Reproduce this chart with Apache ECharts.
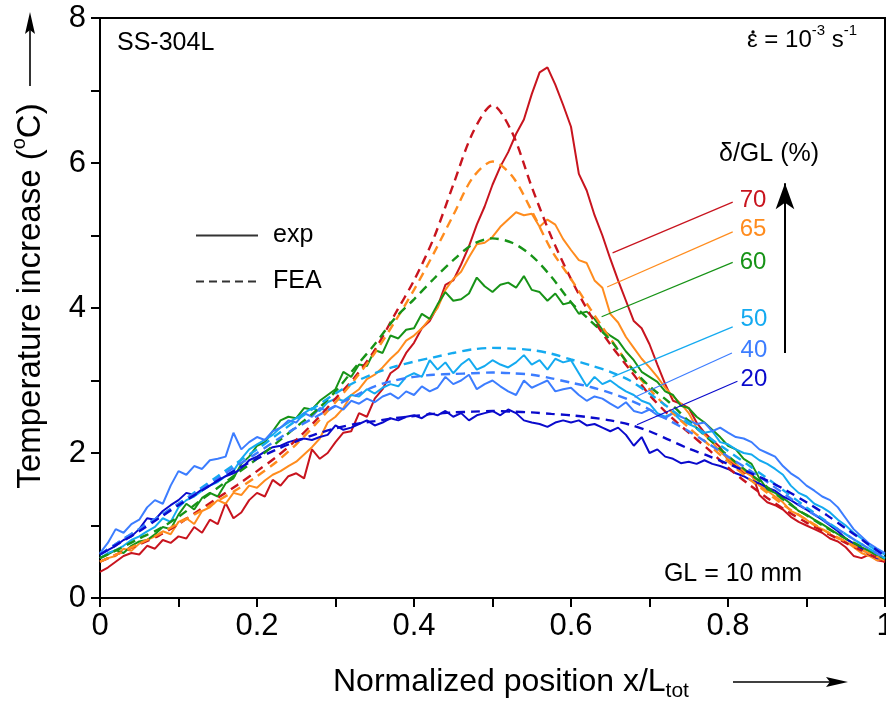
<!DOCTYPE html>
<html><head><meta charset="utf-8">
<script src="https://cdn.jsdelivr.net/npm/echarts@6/dist/echarts.min.js"></script>
<style>html,body{margin:0;padding:0;background:#fff}#c{width:886px;height:710px}</style>
</head><body><div id="c"></div>
<script>
// sampling grids (normalized position x/L_tot)
const xExp = []; for (let i = 0; i <= 100; i++) xExp.push(+(i / 100).toFixed(2));
const xFea = []; for (let i = 0; i <= 40; i++) xFea.push(+(i * 0.025).toFixed(3));

// experimental temperature increase (°C), read at x = 0, 0.01, ..., 1
const exp70 = [0.36,0.42,0.50,0.58,0.62,0.60,0.72,0.68,0.80,0.76,
0.85,0.82,0.98,0.90,1.08,1.02,1.31,1.10,1.18,1.35,
1.45,1.40,1.63,1.55,1.68,1.72,1.65,2.05,1.92,2.00,
2.15,2.28,2.30,2.55,2.50,2.75,2.88,3.10,3.18,3.38,
3.52,3.72,3.82,4.02,4.32,4.38,4.60,4.85,5.15,5.40,
5.70,5.95,6.15,6.40,6.60,6.95,7.25,7.32,7.08,6.80,
6.50,5.85,5.62,5.28,5.00,4.68,4.38,4.10,3.82,3.72,
3.50,3.22,2.95,2.72,2.68,2.62,2.42,2.28,2.18,2.08,
1.90,1.82,1.72,1.74,1.42,1.32,1.28,1.22,1.12,1.05,
1.00,0.95,0.90,0.82,0.78,0.70,0.58,0.55,0.60,0.52,0.50];
const exp65 = [0.50,0.55,0.58,0.68,0.65,0.75,0.80,0.85,0.92,0.88,
1.05,1.10,1.02,1.20,1.25,1.35,1.30,1.45,1.42,1.55,
1.52,1.62,1.70,1.75,1.82,1.88,1.98,2.08,2.20,2.42,
2.50,2.62,2.80,2.88,3.02,3.08,3.18,3.30,3.40,3.55,
3.62,3.72,3.85,4.00,4.25,4.40,4.50,4.70,4.88,4.90,
4.98,5.12,5.22,5.32,5.28,5.30,5.12,5.22,5.15,4.95,
4.80,4.66,4.62,4.38,4.28,3.92,3.80,3.60,3.45,3.30,
3.18,3.05,2.90,2.78,2.68,2.55,2.35,2.25,2.15,2.02,
1.92,1.85,1.75,1.68,1.55,1.48,1.40,1.32,1.20,1.15,
1.08,1.00,0.95,0.88,0.82,0.78,0.70,0.62,0.58,0.52,0.55];
const exp60 = [0.55,0.60,0.66,0.62,0.72,0.78,0.80,0.88,0.98,0.95,
1.15,1.30,1.22,1.38,1.45,1.40,1.58,1.65,1.85,1.95,
2.10,2.15,2.30,2.45,2.50,2.48,2.62,2.60,2.72,2.80,
2.88,3.12,3.05,3.22,3.20,3.42,3.38,3.62,3.58,3.70,
3.72,3.92,3.85,4.05,4.22,4.10,4.12,4.20,4.42,4.30,
4.22,4.32,4.35,4.28,4.44,4.25,4.22,4.10,4.20,4.05,
4.08,3.92,3.95,3.85,3.70,3.62,3.55,3.40,3.28,3.12,
3.05,2.98,2.85,2.80,2.65,2.62,2.50,2.42,2.32,2.22,
2.10,2.05,1.92,1.85,1.65,1.50,1.45,1.38,1.30,1.20,
1.15,1.08,1.02,0.95,0.88,0.82,0.75,0.70,0.65,0.58,0.55];
const exp50 = [0.55,0.62,0.66,0.72,0.80,0.85,0.92,0.98,1.10,1.05,
1.25,1.35,1.40,1.48,1.55,1.60,1.68,1.75,1.92,2.05,
2.12,2.18,2.25,2.35,2.42,2.48,2.55,2.62,2.58,2.70,
2.75,2.72,2.80,2.78,2.88,2.82,2.90,2.95,2.92,3.05,
3.10,3.05,3.28,3.15,3.25,3.10,3.22,3.30,3.15,3.20,
3.28,3.22,3.18,3.25,3.35,3.22,3.28,3.15,3.30,3.25,
3.28,3.10,2.92,3.05,2.95,3.00,2.92,2.85,2.80,2.72,
2.68,2.55,2.50,2.55,2.45,2.40,2.35,2.28,2.30,2.15,
2.12,2.05,2.00,1.98,1.90,1.85,1.78,1.70,1.55,1.45,
1.40,1.30,1.25,1.18,1.08,1.00,0.90,0.82,0.72,0.65,0.60];
const exp40 = [0.62,0.76,0.95,0.90,1.02,1.08,1.25,1.35,1.30,1.55,
1.75,1.70,1.82,1.78,1.90,1.92,1.95,2.28,2.05,2.15,
2.22,2.18,2.30,2.35,2.45,2.42,2.55,2.50,2.62,2.58,
2.65,2.60,2.72,2.68,2.75,2.70,2.78,2.82,2.75,2.85,
2.80,2.92,2.85,2.90,3.05,2.95,3.00,3.08,2.88,2.95,
3.00,2.92,2.85,2.80,3.00,2.90,2.95,3.00,2.85,2.88,
2.90,2.80,2.72,2.78,2.75,2.68,2.62,2.70,2.58,2.55,
2.60,2.52,2.48,2.55,2.50,2.45,2.40,2.42,2.30,2.35,
2.28,2.22,2.20,2.15,2.05,2.00,1.95,1.82,1.72,1.65,
1.55,1.48,1.40,1.35,1.25,1.10,0.95,0.85,0.75,0.68,0.62];
const exp20 = [0.60,0.66,0.72,0.80,0.85,0.95,1.10,1.08,1.20,1.28,
1.35,1.45,1.42,1.50,1.55,1.62,1.68,1.72,1.78,1.90,
1.95,2.02,2.08,2.10,2.15,2.18,2.20,2.18,2.22,2.25,
2.38,2.32,2.35,2.40,2.45,2.38,2.42,2.48,2.45,2.50,
2.52,2.48,2.55,2.52,2.58,2.50,2.55,2.45,2.52,2.55,
2.58,2.52,2.60,2.55,2.45,2.42,2.40,2.36,2.42,2.45,
2.42,2.45,2.38,2.40,2.35,2.30,2.35,2.25,2.10,2.22,
2.00,2.05,1.95,1.92,1.86,1.88,1.85,1.90,1.85,1.82,
1.78,1.72,1.68,1.62,1.58,1.52,1.48,1.40,1.35,1.28,
1.22,1.15,1.08,1.00,0.92,0.82,0.75,0.68,0.60,0.55,0.55];

// FEA temperature increase (°C), read at x = 0, 0.025, ..., 1
const fea70 = [0.50,0.62,0.74,0.86,1.02,1.20,1.38,1.56,1.75,1.95,2.18,2.45,2.75,3.05,3.42,3.90,4.38,4.96,5.70,6.42,6.80,6.42,5.67,4.98,4.40,3.90,3.50,3.15,2.80,2.52,2.28,2.05,1.80,1.58,1.38,1.20,1.04,0.90,0.76,0.63,0.50];
const fea65 = [0.50,0.62,0.75,0.88,1.03,1.18,1.34,1.50,1.68,1.88,2.12,2.40,2.70,3.02,3.38,3.80,4.25,4.75,5.28,5.80,6.02,5.82,5.34,4.80,4.40,3.98,3.58,3.20,2.88,2.60,2.35,2.12,1.88,1.66,1.45,1.25,1.08,0.92,0.78,0.64,0.52];
const fea60 = [0.55,0.68,0.82,0.95,1.12,1.32,1.52,1.72,1.92,2.14,2.36,2.58,2.85,3.18,3.50,3.85,4.12,4.40,4.66,4.88,4.96,4.90,4.72,4.43,4.08,3.82,3.56,3.20,2.92,2.70,2.44,2.20,1.96,1.74,1.53,1.32,1.14,0.97,0.82,0.68,0.54];
const fea50 = [0.60,0.78,0.95,1.12,1.30,1.49,1.68,1.87,2.05,2.25,2.45,2.64,2.82,2.98,3.10,3.19,3.26,3.32,3.38,3.43,3.45,3.44,3.42,3.37,3.29,3.21,3.12,3.00,2.82,2.62,2.42,2.22,2.03,1.84,1.65,1.45,1.25,1.06,0.88,0.71,0.55];
const fea40 = [0.60,0.78,0.95,1.12,1.30,1.47,1.65,1.83,2.00,2.18,2.35,2.50,2.65,2.79,2.92,3.00,3.05,3.08,3.09,3.10,3.11,3.10,3.08,3.03,2.97,2.91,2.83,2.73,2.60,2.45,2.30,2.13,1.95,1.78,1.60,1.41,1.22,1.05,0.88,0.71,0.55];
const fea20 = [0.60,0.76,0.92,1.10,1.28,1.45,1.62,1.78,1.92,2.05,2.16,2.26,2.34,2.40,2.44,2.48,2.51,2.54,2.56,2.57,2.58,2.57,2.56,2.54,2.52,2.49,2.45,2.39,2.30,2.18,2.06,1.96,1.85,1.74,1.62,1.48,1.32,1.15,0.96,0.77,0.58];

const levels = ['70', '65', '60', '50', '40', '20'];
const expSets = [exp70, exp65, exp60, exp50, exp40, exp20];
const feaSets = [fea70, fea65, fea60, fea50, fea40, fea20];
const xTickLabels = ['0', '0.2', '0.4', '0.6', '0.8', '1'];
const yTickLabels = ['0', '2', '4', '6', '8'];

const colors = ['#c8141e', '#ff8c1e', '#179317', '#14aaf0', '#3c7dff', '#0a0acc'];
// annotation geometry in data coordinates
const leaders = [
  [[0.653, 4.76], [0.806, 5.46]],
  [[0.646, 4.29], [0.806, 5.05]],
  [[0.639, 3.88], [0.806, 4.63]],
  [[0.653, 3.05], [0.806, 3.74]],
  [[0.681, 2.77], [0.805, 3.38]],
  [[0.684, 2.39], [0.812, 2.99]]
];
const labelAt = [[0.832, 5.49], [0.832, 5.08], [0.832, 4.63], [0.833, 3.85], [0.833, 3.42], [0.833, 3.02]];
const FONT = 'Liberation Sans, Arial, sans-serif';

const series = [];
levels.forEach((lv, k) => {
  const ml = [[
    { coord: leaders[k][0], lineStyle: { color: colors[k], width: 1.2, type: 'solid' } },
    { coord: leaders[k][1] }
  ]];
  if (k === 0) {
    ml.push([
      { coord: [0.8726, 3.38], symbol: 'none', lineStyle: { color: '#000', width: 2, type: 'solid' } },
      { coord: [0.8726, 5.72], symbol: 'arrow', symbolSize: [14, 26] }
    ]);
  }
  series.push({
    name: 'exp' + lv, type: 'line', data: xExp.map((x, i) => [x, expSets[k][i]]),
    symbol: 'none', lineStyle: { width: 2, color: colors[k] }, itemStyle: { color: colors[k] },
    z: 3, silent: true,
    markLine: { silent: true, symbol: 'none', animation: false, label: { show: false }, data: ml }
  });
  series.push({
    name: 'fea' + lv, type: 'line', data: xFea.map((x, i) => [x, feaSets[k][i]]),
    symbol: 'none', smooth: 0.3,
    lineStyle: { width: 2.4, color: colors[k], type: [9, 6] }, itemStyle: { color: colors[k] },
    z: 4, silent: true
  });
});
series.push({ name: 'exp', type: 'line', data: [], symbol: 'none', showSymbol: false, lineStyle: { color: '#333', width: 2 }, itemStyle: { color: '#333' } });
series.push({ name: 'FEA', type: 'line', data: [], symbol: 'none', showSymbol: false, lineStyle: { color: '#333', width: 1.5, type: [8, 5] }, itemStyle: { color: '#333' } });

const chart = echarts.init(document.getElementById('c'), null, { renderer: 'canvas' });
const baseGraphic = [
  { type: 'text', left: 117, top: 31, style: { text: 'SS-304L', fontSize: 25, fontFamily: FONT, fill: '#000' } },
  { type: 'text', x: 747, y: 40, style: {
      text: '{n|ε = 10}{s|-3}{n| s}{s|-1}', align: 'left', verticalAlign: 'middle',
      rich: { n: { fontSize: 24, fontFamily: FONT, fill: '#000', lineHeight: 34 }, s: { fontSize: 15, fontFamily: FONT, fill: '#000', verticalAlign: 'top' } } } },
  { type: 'circle', shape: { cx: 753, cy: 32, r: 1.7 }, style: { fill: '#000' } },
  { type: 'text', x: 769, y: 154, style: { text: 'δ/GL (%)', fontSize: 25, fontFamily: FONT, fill: '#000', align: 'center', verticalAlign: 'middle' } },
  { type: 'text', x: 733, y: 574, style: { text: 'GL = 10 mm', fontSize: 25, fontFamily: FONT, fill: '#000', align: 'center', verticalAlign: 'middle' } },
  { type: 'text', x: 31, y: 296, rotation: Math.PI / 2, style: {
      text: '{n|Temperature increase (}{s|o}{n|C)}', align: 'center', verticalAlign: 'middle',
      rich: { n: { fontSize: 33, fontFamily: FONT, fill: '#000', lineHeight: 44 }, s: { fontSize: 20, fontFamily: FONT, fill: '#000', verticalAlign: 'top' } } } },
  { type: 'text', x: 333, y: 682, style: {
      text: '{n|Normalized position x/L}{b|tot}', align: 'left', verticalAlign: 'middle',
      rich: { n: { fontSize: 32, fontFamily: FONT, fill: '#000', lineHeight: 40 }, b: { fontSize: 21, fontFamily: FONT, fill: '#000', verticalAlign: 'bottom' } } } },
  { type: 'line', shape: { x1: 30, y1: 86, x2: 30, y2: 30 }, style: { stroke: '#000', lineWidth: 1.6 } },
  { type: 'polygon', shape: { points: [[30, 12], [25, 34], [30, 30], [35, 34]] }, style: { fill: '#000' } },
  { type: 'line', shape: { x1: 733, y1: 682, x2: 830, y2: 682 }, style: { stroke: '#000', lineWidth: 1.6 } },
  { type: 'polygon', shape: { points: [[848, 682], [826, 677], [830, 682], [826, 687]] }, style: { fill: '#000' } }
];
chart.setOption({
  animation: false,
  backgroundColor: '#fff',
  grid: { left: 100, right: 1, top: 18, bottom: 112, show: true, borderColor: '#000', borderWidth: 2, containLabel: false, outerBoundsMode: 'none' },
  legend: {
    data: ['exp', 'FEA'], orient: 'vertical', left: 190, top: 218, itemWidth: 62, itemHeight: 14, itemGap: 21,
    itemStyle: { opacity: 0, borderWidth: 0 },
    textStyle: { fontSize: 25, fontFamily: FONT, color: '#000', padding: [0, 0, 0, 10] }, selectedMode: false
  },
  xAxis: {
    type: 'value', min: 0, max: 1, interval: 0.1,
    axisLine: { lineStyle: { color: '#000', width: 2 } },
    axisTick: { length: 9, lineStyle: { color: '#000', width: 2 } },
    splitLine: { show: false },
    axisLabel: {
      color: '#000', fontSize: 31, fontFamily: FONT, margin: 13, hideOverlap: false,
      formatter: v => { const k = Math.round(v * 10); return k % 2 === 0 ? xTickLabels[k / 2] : ''; }
    }
  },
  yAxis: {
    type: 'value', min: 0, max: 8, interval: 1,
    axisLine: { lineStyle: { color: '#000', width: 2 } },
    axisTick: { length: 9, lineStyle: { color: '#000', width: 2 } },
    splitLine: { show: false },
    axisLabel: {
      color: '#000', fontSize: 31, fontFamily: FONT, margin: 14,
      formatter: v => (Math.round(v) % 2 === 0 ? yTickLabels[Math.round(v) / 2] : '')
    }
  },
  graphic: baseGraphic,
  series: series
});
// level labels placed at data coordinates
const labelGraphic = levels.map((lv, k) => {
  const p = chart.convertToPixel({ gridIndex: 0 }, labelAt[k]);
  return { type: 'text', x: p[0], y: p[1], style: { text: lv, fontSize: 24, fontFamily: FONT, fill: colors[k], align: 'center', verticalAlign: 'middle' } };
});
chart.setOption({ graphic: baseGraphic.concat(labelGraphic) }, { replaceMerge: ['graphic'] });
</script></body></html>
